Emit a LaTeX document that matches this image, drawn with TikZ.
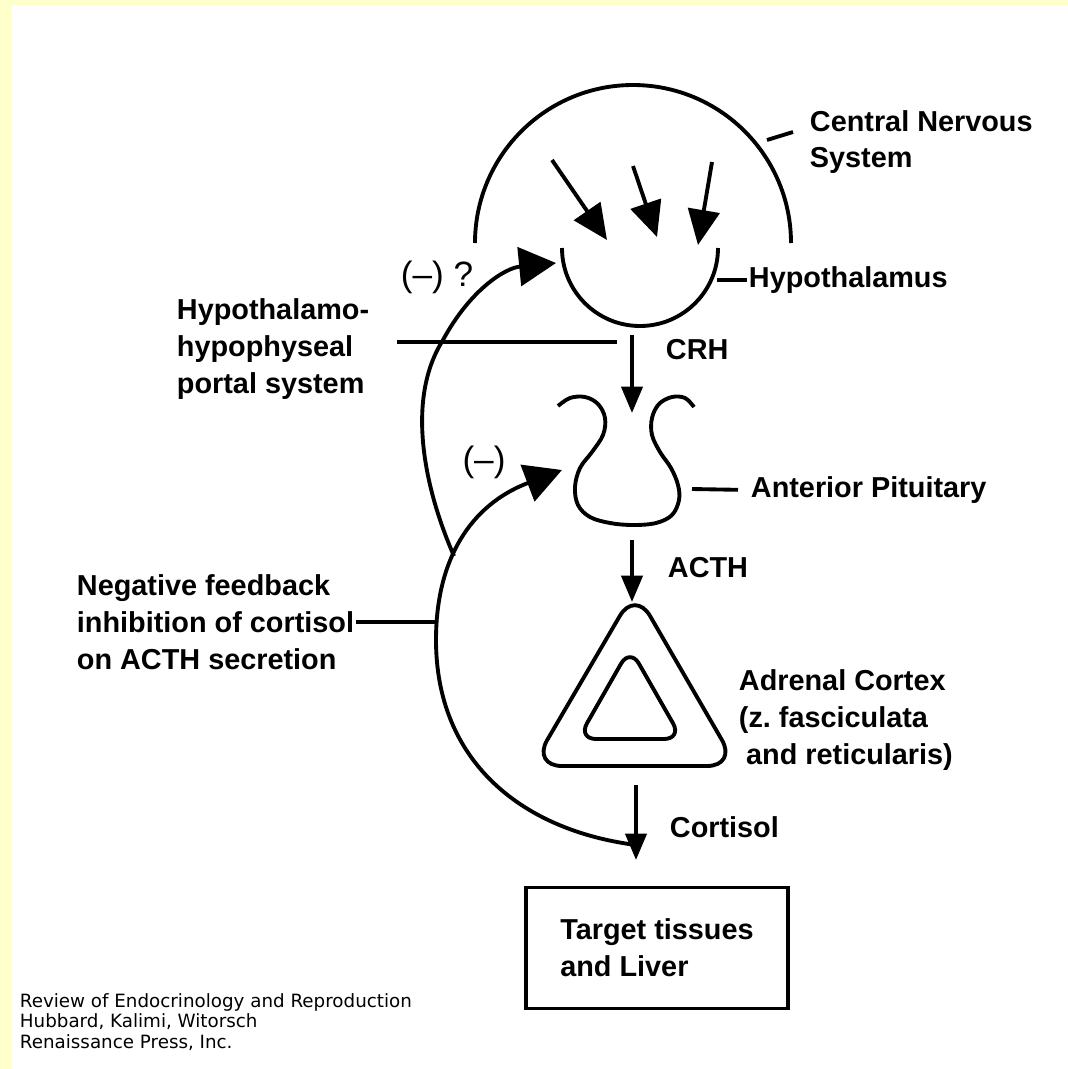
\documentclass[tikz,border=0pt]{standalone}
\usepackage{fontspec}
\setmainfont{Liberation Sans}
\newfontfamily\citefont{DejaVu Sans}
\usetikzlibrary{arrows.meta}
\definecolor{pageyellow}{HTML}{FFFFCC}
\tikzset{>={Triangle[length=7.5pt,width=6pt]}}
\tikzset{
  lbl/.style={font=\bfseries\fontsize{8.2}{10.5}\selectfont,inner sep=0pt,align=left,anchor=west},
  sign/.style={font=\fontsize{10}{11}\selectfont,inner sep=0pt},
  cnshead/.style={-{Triangle[length=10pt,width=9pt]}},
  fbhead/.style={-{Triangle[length=10.5pt,width=11pt]}}
}

\begin{document}
\begin{tikzpicture}[x=0.01cm,y=-0.01cm,line width=1.1pt]
      \fill[pageyellow] (0,0) rectangle (1068,1069);
      \fill[white] (12,5) rectangle (1068,1069);
      \useasboundingbox (0,0) rectangle (1068,1069);

      % central nervous system and hypothalamus
      \coordinate (cnsL) at (475,243);
      \draw (cnsL) arc[start angle=180,end angle=360,radius=158];
      \coordinate (cnsT) at (767,140);
      \coordinate (cnsE) at (793,132);
      \node[lbl] (cns) at (808,142) {Central Nervous\\System};
      \draw (cnsT) -- (cnsE);

      \coordinate (in1) at (552,160);
      \coordinate (in1t) at (607,240);
      \coordinate (in2) at (633,166);
      \coordinate (in2t) at (657,237);
      \coordinate (in3) at (712,162);
      \coordinate (in3t) at (698,245);
      \draw[cnshead] (in1) -- (in1t);
      \draw[cnshead] (in2) -- (in2t);
      \draw[cnshead] (in3) -- (in3t);

      \coordinate (hypL) at (562,248);
      \draw (hypL) arc[start angle=180,end angle=0,radius=78];
      \coordinate (hypR) at (717,280);
      \node[lbl] (hyp) at (747,280) {Hypothalamus};
      \draw (hypR) -- (hyp.west);

      \node[lbl] (portal) at (175,349) {Hypothalamo-\\hypophyseal\\portal system};
      \coordinate (portS) at (397,342);
      \coordinate (portE) at (617,342);
      \draw (portS) -- (portE);

      \coordinate (crhS) at (632,335);
      \coordinate (crhT) at (632,413);
      \draw[->] (crhS) -- (crhT);
      \node[lbl] (crh) at (664,350) {CRH};

      % anterior pituitary
      \draw plot[smooth,tension=0.6] coordinates {(558,406) (570,398) (585,397) (598,404)
        (605,418) (603,435) (592,452) (580,468) (575,487) (578,505) (590,517) (610,523)
        (633,525) (656,523) (672,515) (679,500) (678,485) (671,468) (660,452) (652,435)
        (652,418) (659,404) (672,397) (685,398) (694,407)};
      \coordinate (pitR) at (692,489);
      \node[lbl] (antpit) at (749,490) {Anterior Pituitary};
      \draw[shorten >=1.1mm] (pitR) -- (antpit.west);

      \coordinate (acthS) at (632,540);
      \coordinate (acthT) at (632,602);
      \draw[->] (acthS) -- (acthT);
      \node[lbl] (acth) at (666,568) {ACTH};

      % adrenal cortex
      \draw[rounded corners=0.3cm] (635,590) -- (532,766) -- (737,766) -- cycle;
      \draw[rounded corners=0.18cm] (630,648) -- (578,739) -- (682,739) -- cycle;
      \node[lbl] (adrenal) at (737,720) {Adrenal Cortex\\(z.\ fasciculata\\\hspace{0.25em}and reticularis)};

      \coordinate (cortS) at (636,785);
      \coordinate (cortT) at (636,860);
      \draw[->] (cortS) -- (cortT);
      \node[lbl] (cort) at (668,827) {Cortisol};

      \node[lbl,draw,anchor=center,minimum width=2.61cm,minimum height=1.21cm] (target) at (657,948) {Target tissues\\and Liver};

      % negative feedback loops
      \coordinate (fbJoin) at (636,845);
      \coordinate (fbMid) at (436,640);
      \coordinate (pitTip) at (562,470);
      \coordinate (fbSplit) at (454,556);
      \coordinate (fbBend) at (443,340);
      \coordinate (hypTip) at (556,263);
      \draw[fbhead] (fbJoin) .. controls (520,830) and (436,760) .. (fbMid)
        .. controls (436,560) and (470,505) .. (pitTip);
      \draw[fbhead] (fbSplit) .. controls (425,490) and (405,400) .. (fbBend)
        .. controls (470,290) and (505,268) .. (hypTip);
      \node[sign] (inhib1) at (437,277) {(--) ?};
      \node[sign] (inhib2) at (484,462) {(--)};

      \node[lbl] (negfb) at (75,622) {Negative feedback\\inhibition of cortisol\\on ACTH secretion};
      \coordinate (fbLine) at (437,622);
      \draw (negfb.east) -- (fbLine);

      \node[font=\citefont\fontsize{5.2}{5.9}\selectfont,inner sep=0pt,align=left,anchor=west] (cite) at (18,1022)
        {Review of Endocrinology and Reproduction\\Hubbard, Kalimi, Witorsch\\Renaissance Press, Inc.};
\end{tikzpicture}
\end{document}
